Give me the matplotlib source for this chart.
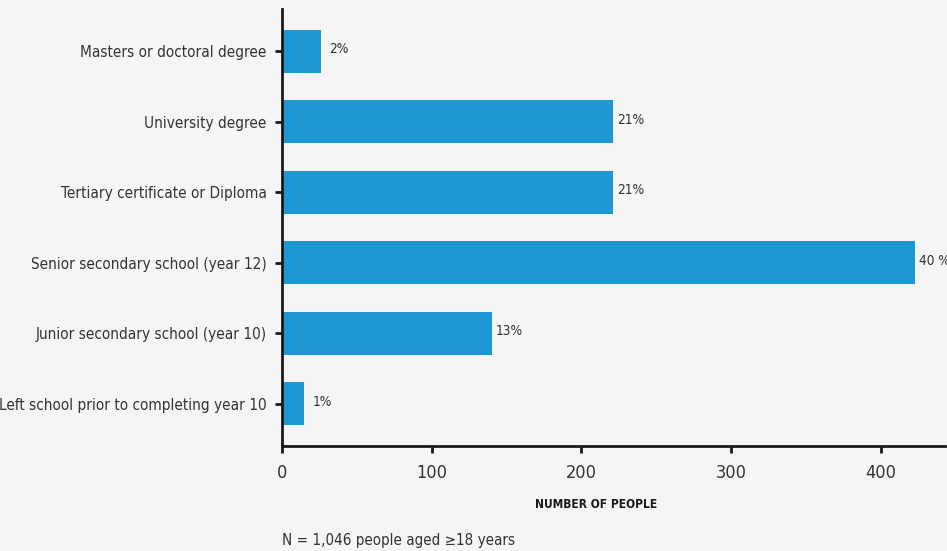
import matplotlib
matplotlib.use("Agg")
import matplotlib.pyplot as plt
from matplotlib import font_manager

categories = [
    "Left school prior to completing year 10",
    "Junior secondary school (year 10)",
    "Senior secondary school (year 12)",
    "Tertiary certificate or Diploma",
    "University degree",
    "Masters or doctoral degree",
]
counts = [15, 140, 423, 221, 221, 26]
pct_labels = ["1%", "13%", "40 %", "21%", "21%", "2%"]
x_ticks = [0, 100, 200, 300, 400]


def find_narrow(weight):
    """Pick a condensed/narrow sans face if one is installed."""
    cands = []
    for f in font_manager.fontManager.ttflist:
        nm = f.name.lower()
        narrow = ("narrow" in nm or "condensed" in nm or
                  str(f.stretch) in ("condensed", "semi-condensed", "extra-condensed"))
        if not narrow or f.style != "normal":
            continue
        w = f.weight if isinstance(f.weight, int) else (700 if "bold" in str(f.weight) else 400)
        cands.append((abs(w - weight), f.fname))
    cands.sort()
    return cands[0][1] if cands else None


reg_path = find_narrow(400)
bold_path = find_narrow(700)
if reg_path:
    reg = font_manager.FontProperties(fname=reg_path)
    bold = font_manager.FontProperties(fname=bold_path or reg_path)
    scale = 1.0
else:
    reg = font_manager.FontProperties(family="Roboto")
    bold = font_manager.FontProperties(family="Roboto", weight="bold")
    scale = 0.86

BG = "#f5f5f5"
BAR = "#1e98d3"
TXT = "#333333"

fig = plt.figure(figsize=(9.47, 5.51), dpi=100, facecolor=BG)
ax = fig.add_axes([282 / 947, 1 - 446 / 551, (945 - 282) / 947, (446 - 9) / 551])
ax.set_facecolor(BG)

ypos = list(range(len(categories)))
ax.barh(ypos, counts, height=0.61, color=BAR)

for y, v, lab in zip(ypos, counts, pct_labels):
    off = 6 if v < 50 else 3
    ax.annotate(lab, (v, y), xytext=(off, 1.5), textcoords="offset points",
                va="center", ha="left", fontproperties=reg, fontsize=9.8 * scale,
                color=TXT)

ax.set_xlim(0, 443)
ax.set_ylim(-0.6, 5.6)
ax.set_yticks(ypos)
ax.set_yticklabels(categories, fontproperties=reg, fontsize=10.95 * scale, color=TXT)
ax.set_xticks(x_ticks)
ax.set_xticklabels([str(t) for t in x_ticks], fontproperties=reg, fontsize=13 * scale,
                   color=TXT)

for s in ["top", "right"]:
    ax.spines[s].set_visible(False)
for s in ["left", "bottom"]:
    ax.spines[s].set_linewidth(2)
    ax.spines[s].set_color("#1a1a1a")
ax.tick_params(axis="both", direction="out", length=5, width=2, color="#1a1a1a")
ax.tick_params(axis="x", pad=8)
ax.tick_params(axis="y", pad=6)

fig.text(596 / 947, 1 - 504 / 551, "NUMBER OF PEOPLE", ha="center", va="center",
         fontproperties=bold, fontsize=8.6 * scale, color="#1a1a1a")
fig.text(282 / 947, 1 - 541 / 551, "N = 1,046 people aged \u226518 years", ha="left",
         va="center", fontproperties=reg, fontsize=10.9 * scale, color=TXT)

fig.savefig("out.png", dpi=100, facecolor=BG)
